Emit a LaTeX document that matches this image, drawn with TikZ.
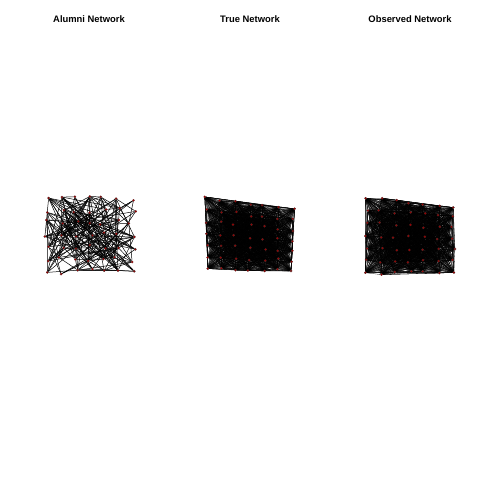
\documentclass[tikz,border=0pt]{standalone}
\usepackage{fontspec}
\setmainfont{Liberation Sans}
\pgfdeclarelayer{bg}
\pgfsetlayers{bg,main}
\begin{document}
\begin{tikzpicture}[x=1pt,y=-1pt,
  vtx/.style={circle,fill=red!60!black,draw=black!80,line width=0.1pt,inner sep=0pt,minimum size=2.5pt},
  edge/.style={black,line width=0.5pt},
  dense/.style={black,line width=0.3pt},
  title/.style={font=\bfseries\fontsize{9.4}{10}\selectfont}]
\useasboundingbox (0,0) rectangle (480,480);
\node[title] (t1) at (89,19) {Alumni Network};
\node[title] (t2) at (250,19) {True Network};
\node[title] (t3) at (410,19) {Observed Network};
\pgfmathsetseed{11}
% panel 1 nodes
\foreach \r in {0,...,6}{
  \foreach \c in {0,...,6}{
    \pgfmathsetmacro\px{46+\c*14.3+rand*4}
    \pgfmathsetmacro\py{198+\r*12.3+rand*3}
    \pgfmathtruncatemacro\k{\r*7+\c}
    \node[vtx] (a\k) at (\px,\py) {};
  }}
% panel 2 nodes
\foreach \r in {0,...,6}{
  \foreach \c in {0,...,6}{
    \pgfmathsetmacro\bx{206+\c*14.5}
    \pgfmathsetmacro\top{198+(\bx-206)*0.14}
    \pgfmathsetmacro\bot{269+\c*0.3}
    \pgfmathsetmacro\px{\bx+rand*2}
    \pgfmathsetmacro\py{\top+(\bot-\top)*\r/6+rand*1.5}
    \pgfmathtruncatemacro\k{\r*7+\c}
    \node[vtx] (b\k) at (\px,\py) {};
  }}
% panel 3 nodes
\foreach \r in {0,...,6}{
  \foreach \c in {0,...,6}{
    \pgfmathsetmacro\bx{366+\c*14.5}
    \pgfmathsetmacro\top{197+(\bx-366)*0.11}
    \pgfmathsetmacro\bot{274-(\bx-366)*0.03}
    \pgfmathsetmacro\px{\bx+rand*2}
    \pgfmathsetmacro\py{\top+(\bot-\top)*\r/6+rand*1.5}
    \pgfmathtruncatemacro\k{\r*7+\c}
    \node[vtx] (c\k) at (\px,\py) {};
  }}
\begin{pgfonlayer}{bg}
\foreach \i in {0,...,47}{
  \pgfmathtruncatemacro\s{\i+1}
  \foreach \j in {\s,...,48}{
    \pgfmathtruncatemacro\hit{rnd<0.17}
    \ifnum\hit=1 \draw[edge] (a\i) -- (a\j);\fi
    \draw[dense] (b\i) -- (b\j);
    \draw[dense] (c\i) -- (c\j);
  }}
\end{pgfonlayer}
\end{tikzpicture}
\end{document}
